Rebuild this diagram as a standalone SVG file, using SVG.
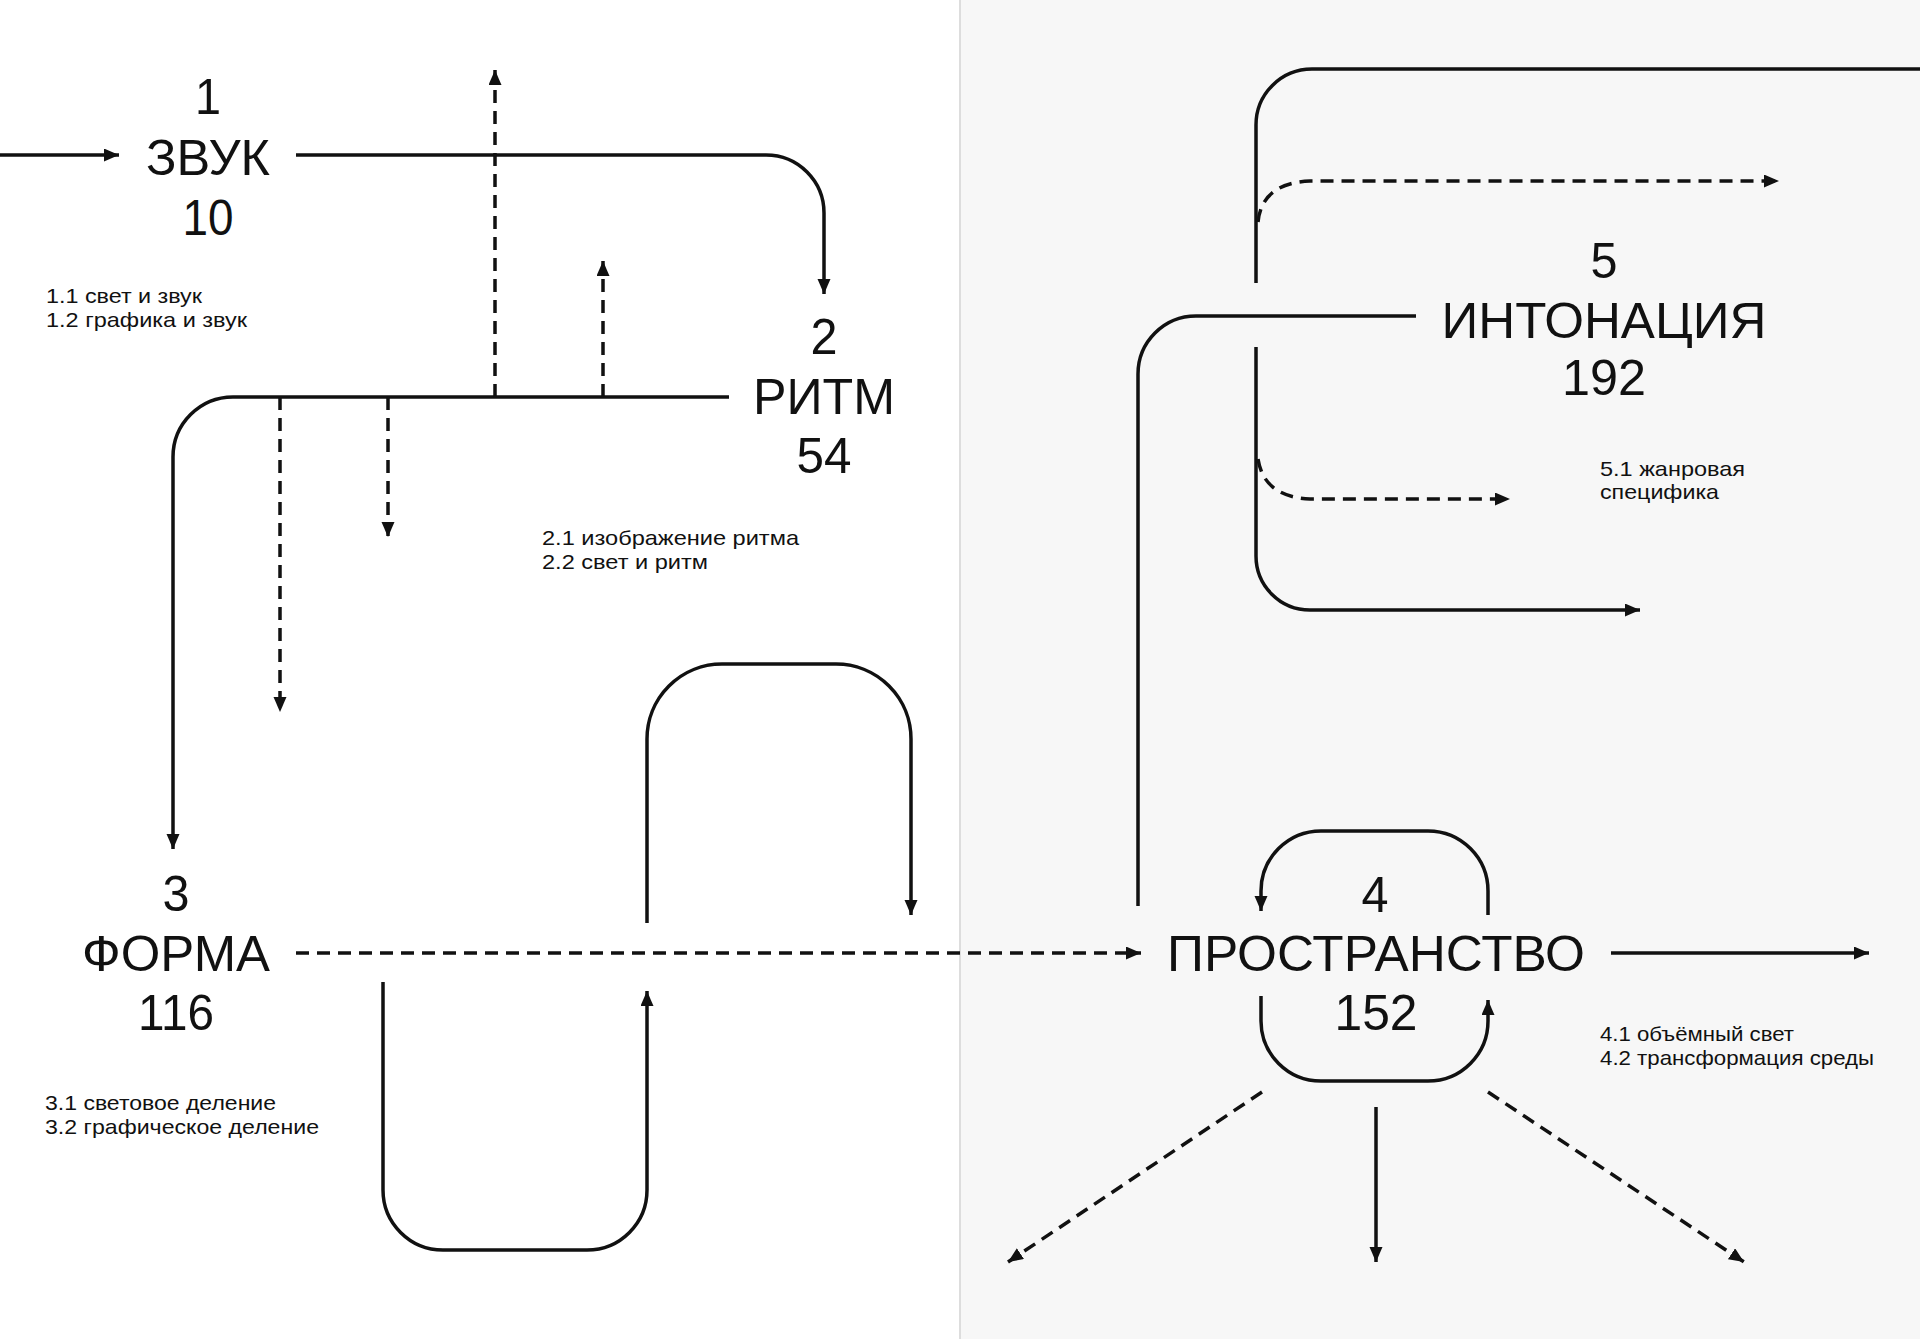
<svg xmlns="http://www.w3.org/2000/svg" width="1920" height="1339" viewBox="0 0 1920 1339">
<style>
.big{font-family:"Liberation Sans",Arial,sans-serif;font-size:50px;fill:#111;text-anchor:middle}
.sm{font-family:"Liberation Sans",Arial,sans-serif;font-size:21px;fill:#111}
.ln{fill:none;stroke:#111;stroke-width:3.5}
.ds{stroke-dasharray:13 8}
</style>
<defs>
<marker id="ah" markerUnits="userSpaceOnUse" markerWidth="16" markerHeight="14" refX="15" refY="6.5" orient="auto"><path d="M0,0 L15,6.5 L0,13 z" fill="#111"/></marker>
</defs>
<rect width="1920" height="1339" fill="#fff"/>
<rect x="960" width="960" height="1339" fill="#f7f7f7"/>
<line x1="960" y1="0" x2="960" y2="1339" stroke="#ddd" stroke-width="2"/>
<g id="connectors">
<path class="ln" d="M0,155 H119" marker-end="url(#ah)"/>
<path class="ln" d="M296,155 H766 A58,58 0 0 1 824,213 V294" marker-end="url(#ah)"/>
<path class="ln" d="M729,397 H233 A60,60 0 0 0 173,457 V849" marker-end="url(#ah)"/>
<path class="ln ds" d="M495,397 V70" marker-end="url(#ah)"/>
<path class="ln ds" d="M603,397 V261" marker-end="url(#ah)"/>
<path class="ln ds" d="M388,397 V537" marker-end="url(#ah)"/>
<path class="ln ds" d="M280,397 V712" marker-end="url(#ah)"/>
<path class="ln ds" d="M296,953 H1141" marker-end="url(#ah)"/>
<path class="ln" d="M647,923 V739 A75,75 0 0 1 722,664 H836 A75,75 0 0 1 911,739 V915" marker-end="url(#ah)"/>
<path class="ln" d="M383,982 V1190 A60,60 0 0 0 443,1250 H587 A60,60 0 0 0 647,1190 V991" marker-end="url(#ah)"/>
<path class="ln" d="M1611,953 H1869" marker-end="url(#ah)"/>
<path class="ln" d="M1488,915 V891 A60,60 0 0 0 1428,831 H1321 A60,60 0 0 0 1261,891 V911" marker-end="url(#ah)"/>
<path class="ln" d="M1261,996 V1021 A60,60 0 0 0 1321,1081 H1428 A60,60 0 0 0 1488,1021 V1000" marker-end="url(#ah)"/>
<path class="ln" d="M1376,1107 V1262" marker-end="url(#ah)"/>
<path class="ln ds" d="M1262,1092 L1008,1262" marker-end="url(#ah)"/>
<path class="ln ds" d="M1488,1092 L1744,1262" marker-end="url(#ah)"/>
<path class="ln" d="M1138,906 V374 A58,58 0 0 1 1196,316 H1416"/>
<path class="ln" d="M1256,283 V125 A56,56 0 0 1 1312,69 H1920"/>
<path class="ln" d="M1256,347 V556 A54,54 0 0 0 1310,610 H1640" marker-end="url(#ah)"/>
<path class="ln ds" d="M1258,222 Q1262,183 1310,181 H1779" marker-end="url(#ah)"/>
<path class="ln ds" d="M1258,459 Q1264,497 1310,499 H1510" marker-end="url(#ah)"/>
</g>
<g id="node1">
<text class="big" x="208" y="114" textLength="26" lengthAdjust="spacingAndGlyphs">1</text>
<text class="big" x="208" y="175" textLength="124" lengthAdjust="spacingAndGlyphs">ЗВУК</text>
<text class="big" x="208" y="235" textLength="51" lengthAdjust="spacingAndGlyphs">10</text>
<text class="sm" x="46" y="303" textLength="156" lengthAdjust="spacingAndGlyphs">1.1 свет и звук</text>
<text class="sm" x="46" y="327" textLength="201" lengthAdjust="spacingAndGlyphs">1.2 графика и звук</text>
</g>
<g id="node2">
<text class="big" x="824" y="354" textLength="27" lengthAdjust="spacingAndGlyphs">2</text>
<text class="big" x="824" y="414" textLength="142" lengthAdjust="spacingAndGlyphs">РИТМ</text>
<text class="big" x="824" y="473" textLength="55" lengthAdjust="spacingAndGlyphs">54</text>
<text class="sm" x="542" y="545" textLength="257" lengthAdjust="spacingAndGlyphs">2.1 изображение ритма</text>
<text class="sm" x="542" y="569" textLength="166" lengthAdjust="spacingAndGlyphs">2.2 свет и ритм</text>
</g>
<g id="node3">
<text class="big" x="176" y="911" textLength="27" lengthAdjust="spacingAndGlyphs">3</text>
<text class="big" x="176" y="971" textLength="188" lengthAdjust="spacingAndGlyphs">ФОРМА</text>
<text class="big" x="176" y="1030" textLength="76" lengthAdjust="spacingAndGlyphs">116</text>
<text class="sm" x="45" y="1110" textLength="231" lengthAdjust="spacingAndGlyphs">3.1 световое деление</text>
<text class="sm" x="45" y="1134" textLength="274" lengthAdjust="spacingAndGlyphs">3.2 графическое деление</text>
</g>
<g id="node4">
<text class="big" x="1375" y="912" textLength="27" lengthAdjust="spacingAndGlyphs">4</text>
<text class="big" x="1376" y="971" textLength="418" lengthAdjust="spacingAndGlyphs">ПРОСТРАНСТВО</text>
<text class="big" x="1376" y="1030" textLength="83" lengthAdjust="spacingAndGlyphs">152</text>
<text class="sm" x="1600" y="1041" textLength="194" lengthAdjust="spacingAndGlyphs">4.1 объёмный свет</text>
<text class="sm" x="1600" y="1065" textLength="274" lengthAdjust="spacingAndGlyphs">4.2 трансформация среды</text>
</g>
<g id="node5">
<text class="big" x="1604" y="278" textLength="27" lengthAdjust="spacingAndGlyphs">5</text>
<text class="big" x="1604" y="338" textLength="325" lengthAdjust="spacingAndGlyphs">ИНТОНАЦИЯ</text>
<text class="big" x="1604" y="395" textLength="84" lengthAdjust="spacingAndGlyphs">192</text>
<text class="sm" x="1600" y="476" textLength="145" lengthAdjust="spacingAndGlyphs">5.1 жанровая</text>
<text class="sm" x="1600" y="499" textLength="119" lengthAdjust="spacingAndGlyphs">специфика</text>
</g>
</svg>
